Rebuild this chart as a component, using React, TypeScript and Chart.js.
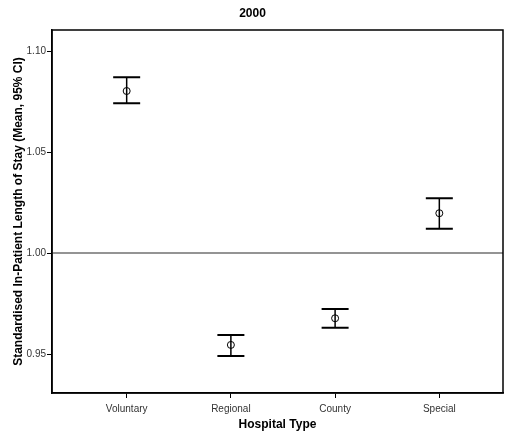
import React, { useEffect, useRef } from "react";
import { Chart, registerables } from "chart.js";

Chart.register(...registerables);

const categories = ["Voluntary", "Regional", "County", "Special"];
const means = [1.0802, 0.9545, 0.9677, 1.0197];
const lowerCI = [1.0741, 0.949, 0.963, 1.012];
const upperCI = [1.087, 0.9594, 0.9723, 1.0271];
const yTicks = [0.95, 1.0, 1.05, 1.1];
const referenceValue = 1.0;

const FONT = "'Liberation Sans', Arial, sans-serif";

const decorPlugin = {
  id: "decor",
  beforeDatasetsDraw(chart: any) {
    const { ctx, chartArea, scales } = chart;
    const x = scales.x;
    const y = scales.y;
    ctx.save();
    const ry = y.getPixelForValue(referenceValue);
    ctx.strokeStyle = "#707070";
    ctx.lineWidth = 1.5;
    ctx.beginPath();
    ctx.moveTo(chartArea.left, ry);
    ctx.lineTo(chartArea.right, ry);
    ctx.stroke();
    ctx.strokeStyle = "#000";
    for (let i = 0; i < categories.length; i++) {
      const px = x.getPixelForValue(i + 1);
      const yt = y.getPixelForValue(upperCI[i]);
      const yb = y.getPixelForValue(lowerCI[i]);
      ctx.lineWidth = 1.5;
      ctx.beginPath();
      ctx.moveTo(px, yt);
      ctx.lineTo(px, yb);
      ctx.stroke();
      ctx.lineWidth = 2;
      ctx.beginPath();
      ctx.moveTo(px - 13.5, yt);
      ctx.lineTo(px + 13.5, yt);
      ctx.moveTo(px - 13.5, yb);
      ctx.lineTo(px + 13.5, yb);
      ctx.stroke();
    }
    ctx.restore();
  },
  afterDraw(chart: any) {
    const { ctx, chartArea } = chart;
    ctx.save();
    ctx.strokeStyle = "#000";
    ctx.lineWidth = 1.5;
    ctx.strokeRect(
      chartArea.left,
      chartArea.top,
      chartArea.right - chartArea.left,
      chartArea.bottom - chartArea.top
    );
    ctx.restore();
  },
};

export default function App() {
  const ref = useRef<HTMLCanvasElement>(null);
  useEffect(() => {
    document.body.style.margin = "0";
    const canvas = ref.current!;
    const chart = new Chart(canvas, {
      type: "scatter",
      data: {
        datasets: [
          {
            data: means.map((m, i) => ({ x: i + 1, y: m })),
            pointStyle: "circle",
            pointRadius: 3.5,
            pointBorderWidth: 1,
            pointBorderColor: "#000",
            pointBackgroundColor: "rgba(0,0,0,0)",
            showLine: false,
          },
        ],
      },
      options: {
        responsive: false,
        animation: false,
        devicePixelRatio: 1,
        layout: { padding: { left: 0, right: 3, top: 0, bottom: 0 } },
        plugins: {
          legend: { display: false },
          tooltip: { enabled: false },
          title: {
            display: true,
            text: "2000",
            color: "#000",
            font: { family: FONT, size: 12, weight: "bold", lineHeight: 1.2 },
            padding: { top: 6, bottom: 9.6 },
          },
        },
        scales: {
          x: {
            type: "linear",
            min: 0.2835,
            max: 4.611,
            afterBuildTicks(scale: any) {
              scale.ticks = categories.map((_, i) => ({ value: i + 1 }));
            },
            afterFit(scale: any) {
              scale.height = 41;
            },
            ticks: {
              color: "#333",
              font: { family: FONT, size: 10 },
              padding: 5,
              autoSkip: false,
              maxRotation: 0,
              callback: (v: any) => categories[Number(v) - 1] ?? "",
            },
            grid: {
              drawOnChartArea: false,
              drawTicks: true,
              tickLength: 5,
              color: "#000",
              lineWidth: 1,
            },
            border: { display: true, color: "#000", width: 1.5 },
            title: {
              display: true,
              text: "Hospital Type",
              color: "#000",
              font: { family: FONT, size: 12, weight: "bold", lineHeight: 1.2 },
              padding: { top: 0, bottom: 2 },
            },
          },
          y: {
            type: "linear",
            min: 0.9307,
            max: 1.1104,
            afterBuildTicks(scale: any) {
              scale.ticks = yTicks.map((v) => ({ value: v }));
            },
            afterFit(scale: any) {
              scale.width = 52;
            },
            ticks: {
              color: "#333",
              font: { family: FONT, size: 10 },
              padding: 1,
              callback: (v: any) => Number(v).toFixed(2),
            },
            grid: {
              drawOnChartArea: false,
              drawTicks: true,
              tickLength: 5,
              color: "#000",
              lineWidth: 1,
            },
            border: { display: true, color: "#000", width: 1.5 },
            title: {
              display: true,
              text: "Standardised In-Patient Length of Stay (Mean, 95% CI)",
              color: "#000",
              font: { family: FONT, size: 12, weight: "bold", lineHeight: 1.2 },
              padding: { top: 11, bottom: 0 },
            },
          },
        },
      },
      plugins: [decorPlugin],
    });
    return () => chart.destroy();
  }, []);
  return (
    <canvas
      ref={ref}
      width={508}
      height={434}
      style={{ display: "block", width: 508, height: 434 }}
    />
  );
}
